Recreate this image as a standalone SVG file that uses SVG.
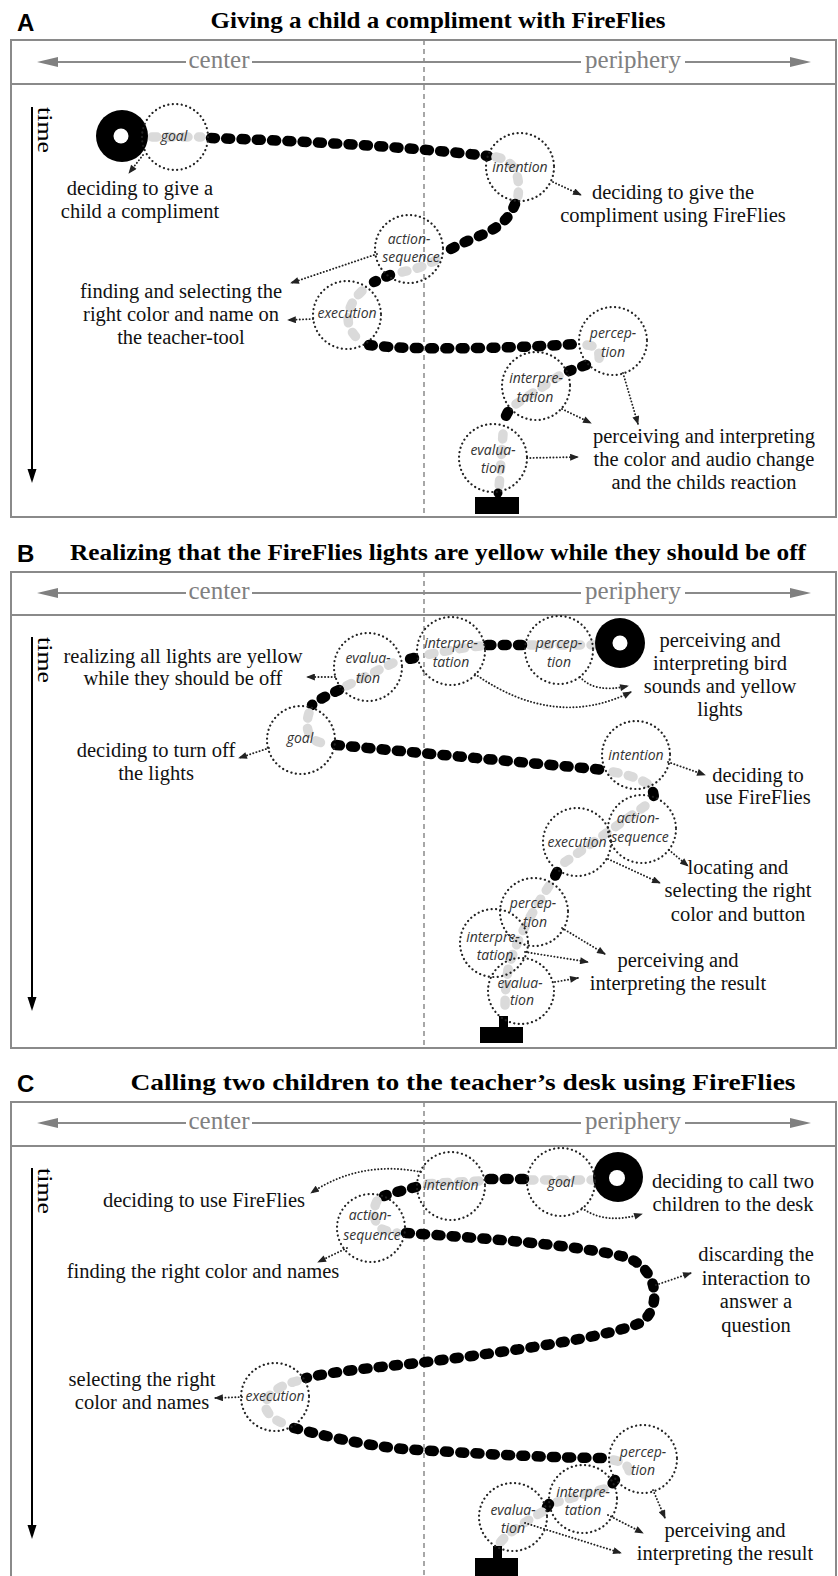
<svg xmlns="http://www.w3.org/2000/svg" width="838" height="1576" viewBox="0 0 838 1576">
<style>
.bg{fill:#fff}
.panel{fill:none;stroke:#8a8a8a;stroke-width:2}
.hdr{stroke:#8a8a8a;stroke-width:2;fill:none}
.hah{fill:#808080}
.mid{stroke:#8a8a8a;stroke-width:1.5;stroke-dasharray:5 4;fill:none}
.hdrtxt{font-family:"Liberation Serif",serif;font-size:25px;fill:#808080;text-anchor:middle}
.title{font-family:"Liberation Serif",serif;font-weight:bold;font-size:23px;text-anchor:middle;fill:#000}
.letter{font-family:"Liberation Sans",Arial,sans-serif;font-weight:bold;font-size:24px;fill:#000}
.time{font-family:"Liberation Serif",serif;font-size:22px;fill:#000}
.tl{stroke:#000;stroke-width:2;fill:none}
.txt{font-family:"Liberation Serif",serif;font-size:20.5px;text-anchor:middle;fill:#111}
.lab{font-family:"Open Sans",sans-serif;font-style:italic;font-size:14px;text-anchor:middle;fill:#333}
.ring{fill:none;stroke:#222;stroke-width:2.2;stroke-dasharray:0.1 4.4;stroke-linecap:round}
.blk{fill:none;stroke:#000;stroke-width:10.5;stroke-linecap:round;stroke-dasharray:4 11.3}
.gry{fill:none;stroke:#dadada;stroke-width:9.5;stroke-linecap:round;stroke-dasharray:5 10.5}
.arr{fill:none;stroke:#222;stroke-width:1.9;stroke-dasharray:0.1 3.2;stroke-linecap:round;marker-end:url(#ah)}
</style>
<defs>
<marker id="ah" viewBox="0 0 10 8" refX="9" refY="4" markerWidth="10" markerHeight="7" markerUnits="userSpaceOnUse" orient="auto"><path d="M0,0 L10,4 L0,8 z" fill="#222"/></marker>
</defs>
<rect class="bg" x="0" y="0" width="838" height="1576"/>

<!-- ===== Panel A frame ===== -->
<g id="panelA-frame">
<text class="letter" x="17" y="31">A</text>
<text class="title" x="438" y="28" textLength="455" lengthAdjust="spacingAndGlyphs">Giving a child a compliment with FireFlies</text>
<rect class="panel" x="11" y="40" width="825" height="477"/>
<line class="hdr" x1="11" y1="84" x2="836" y2="84"/>
<line class="mid" x1="424" y1="40" x2="424" y2="517"/>
<path class="hdr" d="M55,62 H186 M252,62 H581 M685,62 H793"/>
<polygon class="hah" points="37,62 58,57 58,67"/>
<polygon class="hah" points="811,62 790,57 790,67"/>
<text class="hdrtxt" x="219" y="68">center</text>
<text class="hdrtxt" x="633" y="68">periphery</text>
<line class="tl" x1="32" y1="107" x2="32" y2="470"/>
<polygon points="32,483 27.5,469 36.5,469" fill="#000"/>
<text class="time" transform="translate(38,107) rotate(90)" textLength="46" lengthAdjust="spacingAndGlyphs">time</text>
</g>

<!-- ===== Panel B frame ===== -->
<g id="panelB-frame">
<text class="letter" x="17" y="562">B</text>
<text class="title" x="438" y="560" textLength="736" lengthAdjust="spacingAndGlyphs">Realizing that the FireFlies lights are yellow while they should be off</text>
<rect class="panel" x="11" y="572" width="825" height="476"/>
<line class="hdr" x1="11" y1="615" x2="836" y2="615"/>
<line class="mid" x1="424" y1="572" x2="424" y2="1048"/>
<path class="hdr" d="M55,593 H186 M252,593 H581 M685,593 H793"/>
<polygon class="hah" points="37,593 58,588 58,598"/>
<polygon class="hah" points="811,593 790,588 790,598"/>
<text class="hdrtxt" x="219" y="599">center</text>
<text class="hdrtxt" x="633" y="599">periphery</text>
<line class="tl" x1="32" y1="637" x2="32" y2="998"/>
<polygon points="32,1011 27.5,997 36.5,997" fill="#000"/>
<text class="time" transform="translate(38,637) rotate(90)" textLength="46" lengthAdjust="spacingAndGlyphs">time</text>
</g>

<!-- ===== Panel C frame ===== -->
<g id="panelC-frame">
<text class="letter" x="17" y="1092">C</text>
<text class="title" x="463" y="1090" textLength="665" lengthAdjust="spacingAndGlyphs">Calling two children to the teacher’s desk using FireFlies</text>
<rect class="panel" x="11" y="1102" width="825" height="480"/>
<line class="hdr" x1="11" y1="1146" x2="836" y2="1146"/>
<line class="mid" x1="424" y1="1102" x2="424" y2="1576"/>
<path class="hdr" d="M55,1123 H186 M252,1123 H581 M685,1123 H793"/>
<polygon class="hah" points="37,1123 58,1118 58,1128"/>
<polygon class="hah" points="811,1123 790,1118 790,1128"/>
<text class="hdrtxt" x="219" y="1129">center</text>
<text class="hdrtxt" x="633" y="1129">periphery</text>
<line class="tl" x1="32" y1="1168" x2="32" y2="1526"/>
<polygon points="32,1539 27.5,1525 36.5,1525" fill="#000"/>
<text class="time" transform="translate(38,1168) rotate(90)" textLength="46" lengthAdjust="spacingAndGlyphs">time</text>
</g>

<!-- ===== Connectors ===== -->
<g id="connectors">
<!-- Panel A path -->
<path class="gry" d="M152,137 L201,137"/>
<path class="blk" d="M211,138 C300,141 400,146 488,156"/>
<path class="gry" d="M496,157 C512,160 521,172 518,196"/>
<path class="blk" d="M515,204 C508,222 495,230 472,239 C458,245 450,249 443,254"/>
<path class="gry" d="M436,260 C425,266 413,270 402,272"/>
<path class="blk" d="M390,275 L374,282"/>
<path class="gry" d="M362,291 C350,302 345,316 350,328 C353,335 358,339 361,341"/>
<path class="blk" d="M369,345 C390,348 430,349 480,348 C530,347 560,345 578,344"/>
<path class="gry" d="M587,345 C596,346 600,350 599,360"/>
<path class="blk" d="M586,365 L569,371"/>
<path class="gry" d="M559,376 L516,404"/>
<path class="blk" d="M508,412 C505,417 504,421 504,426"/>
<path class="gry" d="M503,434 L499,488"/>
<circle cx="498" cy="493" r="4.5" fill="#000"/>
<rect x="475" y="497" width="44" height="17" fill="#000"/>
<!-- Panel A arrows -->
<path class="arr" d="M143,155 L129,173"/>
<path class="arr" d="M553,182 L581,195"/>
<path class="arr" d="M377,254 L291,283"/>
<path class="arr" d="M313,319 L288,320"/>
<path class="arr" d="M623,373 L638,424"/>
<path class="arr" d="M562,409 L591,423"/>
<path class="arr" d="M527,458 L578,457"/>

<!-- Panel B path -->
<path class="gry" d="M596,645 L530,645"/>
<path class="blk" d="M522,645 L486,645"/>
<path class="gry" d="M480,646 C460,648 440,652 421,656"/>
<path class="blk" d="M414,658 L400,661"/>
<path class="gry" d="M393,663 L344,687"/>
<path class="blk" d="M339,690 C328,695 318,700 312,705"/>
<path class="gry" d="M309,713 C305,725 308,735 313,739 C317,742 322,743 327,744"/>
<path class="blk" d="M336,745 C420,753 520,762 605,770"/>
<path class="gry" d="M613,772 C630,775 644,780 650,786"/>
<path class="blk" d="M653,792 L654,797"/>
<path class="gry" d="M645,806 L558,867"/>
<path class="blk" d="M557,872 L554,878"/>
<path class="gry" d="M549,886 C530,915 514,945 508,970 C505,990 505,1000 505,1012"/>
<rect x="499" y="1016" width="9" height="12" fill="#000"/>
<rect x="480" y="1027" width="43" height="16" fill="#000"/>
<!-- Panel B arrows -->
<path class="arr" d="M335,677 L307,677"/>
<path class="arr" d="M269,748 L239,758"/>
<path class="arr" d="M580,677 C590,688 605,691 628,686"/>
<path class="arr" d="M475,674 Q555,730 631,692"/>
<path class="arr" d="M668,762 L705,775"/>
<path class="arr" d="M669,850 L688,866"/>
<path class="arr" d="M608,859 L660,883"/>
<path class="arr" d="M562,928 L605,954"/>
<path class="arr" d="M525,952 L588,962"/>
<path class="arr" d="M555,982 L578,978"/>

<!-- Panel C path -->
<path class="gry" d="M596,1180 L530,1180"/>
<path class="blk" d="M524,1179 L484,1179"/>
<path class="gry" d="M479,1181 L421,1184"/>
<path class="blk" d="M416,1187 C405,1190 395,1192 384,1196"/>
<path class="gry" d="M377,1201 C372,1210 374,1222 380,1228 C385,1231 391,1232 397,1233"/>
<path class="blk" d="M406,1233 C480,1238 580,1245 625,1257 C660,1268 662,1310 640,1323 C600,1340 480,1355 418,1363 C370,1368 330,1372 306,1378"/>
<path class="gry" d="M297,1381 C280,1385 266,1395 265,1405 C266,1414 276,1421 285,1424"/>
<path class="blk" d="M294,1428 C340,1440 380,1448 418,1450 C500,1455 560,1458 605,1458"/>
<path class="gry" d="M613,1460 C625,1462 632,1468 628,1476"/>
<path class="blk" d="M615,1480 L612,1484"/>
<path class="gry" d="M604,1489 L557,1502"/>
<path class="blk" d="M549,1504 L547,1507"/>
<path class="gry" d="M542,1512 C525,1522 506,1534 499,1544"/>
<rect x="493" y="1546" width="9" height="13" fill="#000"/>
<rect x="475" y="1558" width="43" height="20" fill="#000"/>
<!-- Panel C arrows -->
<path class="arr" d="M421,1172 Q360,1160 311,1193"/>
<path class="arr" d="M347,1248 L318,1262"/>
<path class="arr" d="M582,1208 Q605,1225 642,1214"/>
<path class="arr" d="M656,1285 L691,1273"/>
<path class="arr" d="M242,1397 L215,1398"/>
<path class="arr" d="M653,1490 L665,1518"/>
<path class="arr" d="M608,1515 L643,1533"/>
<path class="arr" d="M525,1523 L621,1553"/>
</g>

<!-- ===== Panel A nodes ===== -->
<g id="A-start"><circle cx="122" cy="136" r="26" fill="#000"/><circle cx="121" cy="136" r="7.5" fill="#fff"/></g>
<g id="A-goal"><circle class="ring" cx="175" cy="137" r="33"/><text class="lab" x="174" y="141">goal</text></g>
<g id="A-intention"><circle class="ring" cx="520" cy="167" r="34"/><text class="lab" x="520" y="172">intention</text></g>
<g id="A-action"><circle class="ring" cx="409" cy="249" r="34"/><text class="lab" x="409" y="244">action-</text><text class="lab" x="411" y="262">sequence</text></g>
<g id="A-execution"><circle class="ring" cx="347" cy="315" r="34"/><text class="lab" x="347" y="318">execution</text></g>
<g id="A-perception"><circle class="ring" cx="613" cy="341" r="34"/><text class="lab" x="613" y="338">percep-</text><text class="lab" x="613" y="357">tion</text></g>
<g id="A-interpretation"><circle class="ring" cx="536" cy="386" r="34"/><text class="lab" x="536" y="383">interpre-</text><text class="lab" x="535" y="402">tation</text></g>
<g id="A-evaluation"><circle class="ring" cx="493" cy="458" r="34"/><text class="lab" x="493" y="455">evalua-</text><text class="lab" x="493" y="473">tion</text></g>
<g id="A-t1"><text class="txt" x="140" y="195">deciding to give a</text><text class="txt" x="140" y="218">child a compliment</text></g>
<g id="A-t2"><text class="txt" x="673" y="199">deciding to give the</text><text class="txt" x="673" y="222">compliment using FireFlies</text></g>
<g id="A-t3"><text class="txt" x="181" y="298">finding and selecting the</text><text class="txt" x="181" y="321">right color and name on</text><text class="txt" x="181" y="344">the teacher-tool</text></g>
<g id="A-t4"><text class="txt" x="704" y="443">perceiving and interpreting</text><text class="txt" x="704" y="466">the color and audio change</text><text class="txt" x="704" y="489">and the childs reaction</text></g>

<!-- ===== Panel B nodes ===== -->
<g id="B-start"><circle cx="620" cy="643" r="25" fill="#000"/><circle cx="620" cy="643" r="7.5" fill="#fff"/></g>
<g id="B-perception"><circle class="ring" cx="559" cy="650" r="34"/><text class="lab" x="559" y="648">percep-</text><text class="lab" x="559" y="667">tion</text></g>
<g id="B-interpretation"><circle class="ring" cx="451" cy="651" r="34"/><text class="lab" x="451" y="648">interpre-</text><text class="lab" x="451" y="667">tation</text></g>
<g id="B-evaluation"><circle class="ring" cx="368" cy="667" r="34"/><text class="lab" x="368" y="663">evalua-</text><text class="lab" x="368" y="683">tion</text></g>
<g id="B-goal"><circle class="ring" cx="301" cy="740" r="34"/><text class="lab" x="300" y="743">goal</text></g>
<g id="B-intention"><circle class="ring" cx="636" cy="755" r="34"/><text class="lab" x="636" y="760">intention</text></g>
<g id="B-action"><circle class="ring" cx="642" cy="829" r="34"/><text class="lab" x="638" y="823">action-</text><text class="lab" x="640" y="842">sequence</text></g>
<g id="B-execution"><circle class="ring" cx="577" cy="842" r="34"/><text class="lab" x="577" y="847">execution</text></g>
<g id="B-perception2"><circle class="ring" cx="534" cy="912" r="34"/><text class="lab" x="533" y="908">percep-</text><text class="lab" x="535" y="927">tion</text></g>
<g id="B-interpretation2"><circle class="ring" cx="494" cy="943" r="34"/><text class="lab" x="493" y="942">interpre-</text><text class="lab" x="495" y="960">tation</text></g>
<g id="B-evaluation2"><circle class="ring" cx="521" cy="991" r="33"/><text class="lab" x="520" y="988">evalua-</text><text class="lab" x="522" y="1005">tion</text></g>
<g id="B-t1"><text class="txt" x="183" y="663">realizing all lights are yellow</text><text class="txt" x="183" y="685">while they should be off</text></g>
<g id="B-t2"><text class="txt" x="156" y="757">deciding to turn off</text><text class="txt" x="156" y="780">the lights</text></g>
<g id="B-t3"><text class="txt" x="720" y="647">perceiving and</text><text class="txt" x="720" y="670">interpreting bird</text><text class="txt" x="720" y="693">sounds and yellow</text><text class="txt" x="720" y="716">lights</text></g>
<g id="B-t4"><text class="txt" x="758" y="782">deciding to</text><text class="txt" x="758" y="804">use FireFlies</text></g>
<g id="B-t5"><text class="txt" x="738" y="874">locating and</text><text class="txt" x="738" y="897">selecting the right</text><text class="txt" x="738" y="921">color and button</text></g>
<g id="B-t6"><text class="txt" x="678" y="967">perceiving and</text><text class="txt" x="678" y="990">interpreting the result</text></g>

<!-- ===== Panel C nodes ===== -->
<g id="C-start"><circle cx="618" cy="1177" r="25" fill="#000"/><circle cx="617" cy="1178" r="8" fill="#fff"/></g>
<g id="C-goal"><circle class="ring" cx="561" cy="1182" r="34"/><text class="lab" x="561" y="1187">goal</text></g>
<g id="C-intention"><circle class="ring" cx="451" cy="1186" r="34"/><text class="lab" x="451" y="1190">intention</text></g>
<g id="C-action"><circle class="ring" cx="371" cy="1228" r="34"/><text class="lab" x="370" y="1220">action-</text><text class="lab" x="372" y="1240">sequence</text></g>
<g id="C-execution"><circle class="ring" cx="275" cy="1397" r="34"/><text class="lab" x="275" y="1401">execution</text></g>
<g id="C-perception"><circle class="ring" cx="643" cy="1459" r="34"/><text class="lab" x="643" y="1457">percep-</text><text class="lab" x="643" y="1475">tion</text></g>
<g id="C-interpretation"><circle class="ring" cx="583" cy="1499" r="34"/><text class="lab" x="583" y="1497">interpre-</text><text class="lab" x="583" y="1515">tation</text></g>
<g id="C-evaluation"><circle class="ring" cx="513" cy="1517" r="34"/><text class="lab" x="513" y="1515">evalua-</text><text class="lab" x="513" y="1533">tion</text></g>
<g id="C-t1"><text class="txt" x="204" y="1207">deciding to use FireFlies</text></g>
<g id="C-t2"><text class="txt" x="203" y="1278">finding the right color and names</text></g>
<g id="C-t3"><text class="txt" x="733" y="1188">deciding to call two</text><text class="txt" x="733" y="1211">children to the desk</text></g>
<g id="C-t4"><text class="txt" x="756" y="1261">discarding the</text><text class="txt" x="756" y="1285">interaction to</text><text class="txt" x="756" y="1308">answer a</text><text class="txt" x="756" y="1332">question</text></g>
<g id="C-t5"><text class="txt" x="142" y="1386">selecting the right</text><text class="txt" x="142" y="1409">color and names</text></g>
<g id="C-t6"><text class="txt" x="725" y="1537">perceiving and</text><text class="txt" x="725" y="1560">interpreting the result</text></g>
</svg>
